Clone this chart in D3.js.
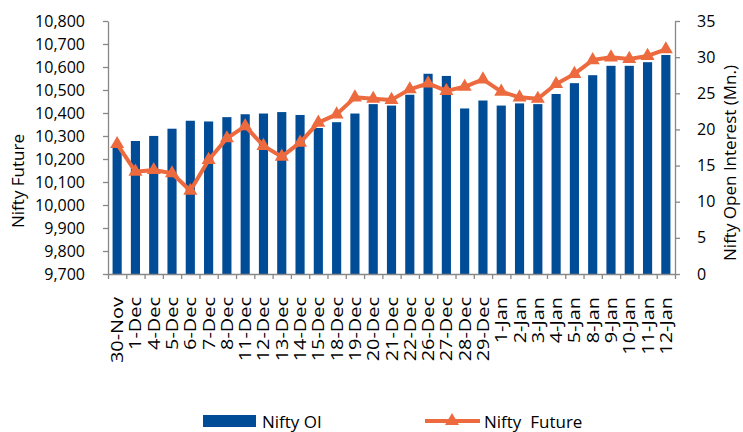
<!DOCTYPE html>
<html>
<head>
<meta charset="utf-8">
<script src="https://cdn.jsdelivr.net/npm/d3@7"></script>
<style>
  body { margin: 0; background: #fff; }
  text { font-family: "Open Sans", sans-serif; fill: #000; }
</style>
</head>
<body>
<div id="chart"></div>
<script>
const barColor = '#004c97';   // Nifty OI bars
const lineColor = '#ed6a3f';  // Nifty Future line + triangles
const axisColor = '#888888';

// categories (trading days)
const dates = ['30-Nov', '1-Dec', '4-Dec', '5-Dec', '6-Dec', '7-Dec', '8-Dec', '11-Dec', '12-Dec', '13-Dec',
    '14-Dec', '15-Dec', '18-Dec', '19-Dec', '20-Dec', '21-Dec', '22-Dec', '26-Dec', '27-Dec', '28-Dec',
    '29-Dec', '1-Jan', '2-Jan', '3-Jan', '4-Jan', '5-Jan', '8-Jan', '9-Jan', '10-Jan', '11-Jan', '12-Jan'];

// open interest, millions (right axis)
const niftyOI = [17.6, 18.4, 19.1, 20.1, 21.2, 21.1, 21.7, 22.1, 22.2, 22.4,
    22.0, 20.2, 21.0, 22.2, 23.5, 23.3, 24.8, 27.7, 27.4, 22.9,
    24.0, 23.3, 23.6, 23.5, 24.9, 26.4, 27.5, 28.8, 28.8, 29.3, 30.3];

// nifty future price (left axis)
const niftyFuture = [10265, 10145, 10152, 10138, 10062, 10196, 10290, 10343, 10257, 10210,
    10271, 10358, 10394, 10468, 10462, 10457, 10503, 10529, 10496, 10514,
    10546, 10493, 10468, 10462, 10526, 10570, 10630, 10642, 10635, 10648, 10677];

const leftTicks = d3.range(9700, 10801, 100);
const rightTicks = d3.range(0, 36, 5);

function drawChart() {
    const W = 743, H = 432;
    const margin = {top: 21, right: 68, bottom: 158, left: 108};
    const width = W - margin.left - margin.right;
    const height = H - margin.top - margin.bottom;

    const svg = d3.select('#chart')
        .append('svg')
        .attr('width', W)
        .attr('height', H);

    const g = svg.append('g')
        .attr('transform', `translate(${margin.left}, ${margin.top})`);

    const x = d3.scaleBand()
        .domain(dates)
        .range([0, width])
        .paddingInner(0.5)
        .paddingOuter(0.25);

    // boundaries between categories for the bottom ticks
    const xEdge = d3.scaleLinear().domain([0, dates.length]).range([0, width]);

    const yLeft = d3.scaleLinear().domain([9700, 10800]).range([height, 0]);
    const yRight = d3.scaleLinear().domain([0, 35]).range([height, 0]);

    // bars
    g.selectAll('.oiBar')
        .data(dates)
        .enter()
        .append('rect')
        .attr('class', 'oiBar')
        .attr('x', d => x(d))
        .attr('width', x.bandwidth())
        .attr('y', (d, i) => yRight(niftyOI[i]))
        .attr('height', (d, i) => height - yRight(niftyOI[i]))
        .attr('fill', barColor);

    // axes
    const styleAxis = sel => {
        sel.select('.domain').attr('stroke', axisColor).attr('stroke-width', 1.3);
        sel.selectAll('.tick line').attr('stroke', axisColor).attr('stroke-width', 1.3);
        sel.selectAll('text').style('font-size', '16px').attr('fill', '#000');
    };

    g.append('g')
        .call(d3.axisLeft(yLeft).tickValues(leftTicks).tickFormat(d3.format(',')).tickSize(5).tickSizeOuter(0).tickPadding(18))
        .call(styleAxis);

    g.append('g')
        .attr('transform', `translate(${width}, 0)`)
        .call(d3.axisRight(yRight).tickValues(rightTicks).tickSize(5).tickSizeOuter(0).tickPadding(17))
        .call(styleAxis);

    g.append('g')
        .attr('transform', `translate(0, ${height})`)
        .call(d3.axisBottom(xEdge).tickValues(d3.range(0, dates.length + 1)).tickFormat('').tickSize(5).tickSizeOuter(0))
        .call(styleAxis);

    // category labels, rotated (stretched a bit along the text like the original)
    const xLab = g.append('g')
        .attr('transform', `translate(0, ${height})`)
        .call(d3.axisBottom(x).tickSize(0).tickSizeOuter(0));
    xLab.select('.domain').remove();
    xLab.selectAll('text')
        .style('font-size', '17px')
        .attr('text-anchor', 'end')
        .attr('dy', null)
        .attr('y', 0)
        .attr('transform', 'translate(6, 23) rotate(-90) scale(1.17, 1)');

    // line + triangle markers
    const line = d3.line()
        .x((d, i) => x(dates[i]) + x.bandwidth() / 2)
        .y(d => yLeft(d));

    g.append('path')
        .datum(niftyFuture)
        .attr('d', line)
        .attr('fill', 'none')
        .attr('stroke', lineColor)
        .attr('stroke-width', 4)
        .attr('stroke-linejoin', 'round');

    const tri = d3.symbol().type(d3.symbolTriangle).size(85);
    g.selectAll('.futTri')
        .data(niftyFuture)
        .enter()
        .append('path')
        .attr('class', 'futTri')
        .attr('d', tri)
        .attr('transform', (d, i) => `translate(${x(dates[i]) + x.bandwidth() / 2}, ${yLeft(d)})`)
        .attr('fill', lineColor);

    // axis titles
    svg.append('text')
        .attr('transform', 'translate(24, 181) rotate(-90)')
        .attr('text-anchor', 'middle')
        .style('font-size', '17px')
        .text('Nifty Future');

    svg.append('text')
        .attr('transform', 'translate(736, 163) rotate(-90)')
        .attr('text-anchor', 'middle')
        .style('font-size', '17px')
        .text('Nifty Open Interest (Mn.)');

    // legend
    const legend = svg.append('g');
    legend.append('rect')
        .attr('x', 203).attr('y', 415)
        .attr('width', 53).attr('height', 12)
        .attr('fill', barColor);
    legend.append('text')
        .attr('x', 262).attr('y', 428)
        .style('font-size', '17px')
        .text('Nifty OI');

    legend.append('line')
        .attr('x1', 425).attr('x2', 480)
        .attr('y1', 421).attr('y2', 421)
        .attr('stroke', lineColor)
        .attr('stroke-width', 4);
    legend.append('path')
        .attr('d', tri)
        .attr('transform', 'translate(452, 421)')
        .attr('fill', lineColor);
    legend.append('text')
        .attr('x', 484).attr('y', 428)
        .style('font-size', '17px')
        .style('white-space', 'pre')
        .text('Nifty  Future');
}

drawChart();
</script>
</body>
</html>
